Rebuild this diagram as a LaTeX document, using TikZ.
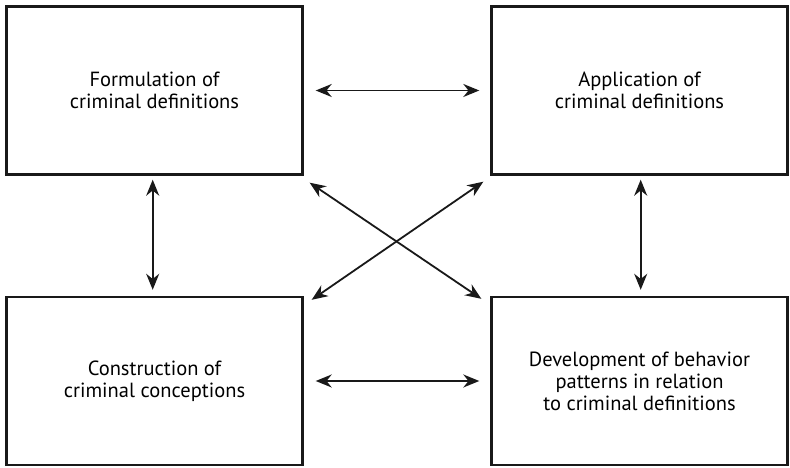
\documentclass[tikz,border=0pt]{standalone}
\usepackage{fontspec}
\setmainfont{PT Sans}
\usepackage{tikz}
\usetikzlibrary{
  arrows.meta,
  positioning,
  calc
}

\begin{document}
\begin{tikzpicture}[
      x=1pt, y=1pt,
      >={Stealth[length=16pt, width=13pt]},
      caixa/.style={draw=black!90, line width=2.4pt, minimum width=296pt, minimum height=168pt, align=center, font=\fontsize{20.5}{22}\selectfont},
      seta/.style={<->, line width=1.8pt, black!90}
  ]
      \useasboundingbox (0,0) rectangle (790,468);

      % Caixas nos quatro cantos
      \node[caixa] (form) at (154.5, 377.5) {Formulation of\\criminal definitions};
      \node[caixa] (appl) at (639.5, 377.5) {Application of\\criminal definitions};
      \node[caixa] (cons) at (154.5, 87) {Construction of\\criminal conceptions};
      \node[caixa] (dev) at (639.5, 87) {Development of behavior\\patterns in relation\\to criminal definitions};

      % Setas horizontais e verticais
      \draw[seta, shorten <=12pt, shorten >=11pt] (form.east) -- (appl.west);
      \draw[seta, shorten <=12pt, shorten >=11pt] (cons.east) -- (dev.west);
      \draw[seta, shorten <=4pt, shorten >=6pt] (form.south -| 152.7,0) -- (cons.north -| 152.7,0);
      \draw[seta, shorten <=4pt, shorten >=6pt] (appl.south -| 640.7,0) -- (dev.north -| 640.7,0);

      % Setas diagonais
      \draw[seta] ($(form.south east)+(6,-7)$) -- ($(dev.north west)+(-9,-3)$);
      \draw[seta] ($(appl.south west)+(-7,-6)$) -- ($(cons.north east)+(8,-4)$);
  \end{tikzpicture}
\end{document}
